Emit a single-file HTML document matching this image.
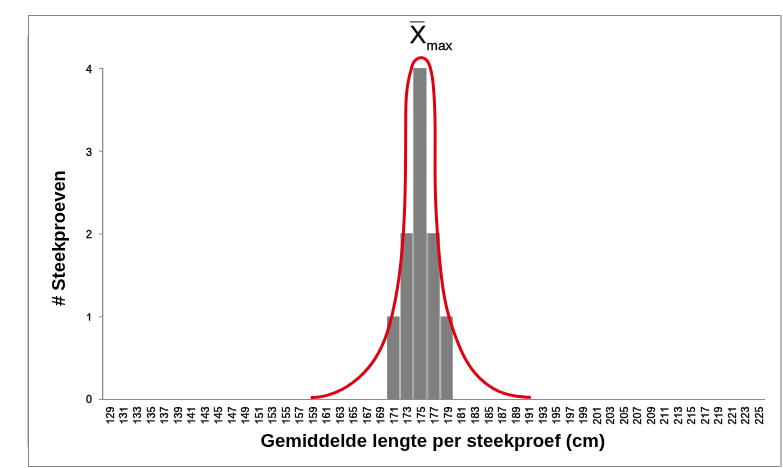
<!DOCTYPE html>
<html><head><meta charset="utf-8"><title>Chart</title>
<style>
html,body{margin:0;padding:0;background:#fff;}
body{width:783px;height:468px;overflow:hidden;position:relative;font-family:"Liberation Sans",sans-serif;}
svg{position:absolute;left:0;top:0;will-change:transform;}
svg text{font-family:"Liberation Sans",sans-serif;}
</style></head><body>
<svg width="783" height="468" viewBox="0 0 783 468">
<defs><path id="one" d="M0.3726 0.0000L0.2847 0.0000L0.2847 -0.5361Q0.2529 -0.5071 0.2014 -0.4781Q0.1499 -0.4492 0.1089 -0.4347L0.1089 -0.5160Q0.1826 -0.5492 0.2378 -0.5964Q0.2930 -0.6436 0.3159 -0.6880L0.3726 -0.6880Z"/></defs>
<rect x="0" y="0" width="783" height="468" fill="#fff"/>
<rect x="28" y="15" width="754" height="1" fill="#858585"/>
<rect x="28" y="466" width="754" height="1" fill="#858585"/>
<rect x="28" y="15" width="1" height="452" fill="#858585"/>
<rect x="27" y="35" width="1" height="412" fill="#cfcfcf"/>
<rect x="780" y="15" width="2" height="452" fill="#b6b6b6"/>
<rect x="387.1" y="316.4" width="12.00" height="82.60" fill="#7f7f7f"/>
<rect x="400.5" y="233.2" width="11.55" height="165.80" fill="#7f7f7f"/>
<rect x="413.3" y="68.1" width="13.20" height="330.90" fill="#7f7f7f"/>
<rect x="428.1" y="233.2" width="11.64" height="165.80" fill="#7f7f7f"/>
<rect x="441.03" y="316.4" width="11.72" height="82.60" fill="#7f7f7f"/>
<rect x="398.95" y="316.4" width="1.65" height="82.60" fill="#b6b6b6"/>
<rect x="412.05" y="233.2" width="2.05" height="165.80" fill="#a6a6a6"/>
<rect x="425.9" y="233.2" width="2.20" height="165.80" fill="#a4a4a4"/>
<rect x="439.6" y="316.4" width="1.55" height="82.60" fill="#b8b8b8"/>
<rect x="102" y="68" width="1.3" height="332" fill="#8c8c8c"/>
<rect x="99" y="399" width="666" height="1" fill="#8c8c8c"/>
<rect x="99" y="316.25" width="3" height="1" fill="#8c8c8c"/>
<rect x="99" y="233.50" width="3" height="1" fill="#8c8c8c"/>
<rect x="99" y="150.75" width="3" height="1" fill="#8c8c8c"/>
<rect x="99" y="68.00" width="3" height="1" fill="#8c8c8c"/>
<path d="M310.82 397.53 L312.40 397.50 L313.97 397.42 L315.53 397.31 L317.09 397.16 L318.64 396.97 L320.18 396.75 L321.72 396.49 L323.25 396.19 L324.76 395.86 L326.27 395.49 L327.77 395.09 L329.26 394.65 L330.74 394.18 L332.21 393.68 L333.67 393.15 L335.11 392.58 L336.55 391.99 L337.97 391.36 L339.38 390.71 L340.78 390.02 L342.16 389.31 L343.54 388.57 L344.89 387.80 L346.24 387.00 L347.57 386.18 L348.88 385.33 L350.18 384.45 L351.47 383.55 L352.74 382.63 L353.99 381.68 L355.22 380.71 L356.44 379.72 L357.64 378.70 L358.83 377.67 L359.99 376.61 L361.14 375.53 L362.27 374.43 L363.38 373.32 L364.47 372.18 L365.54 371.03 L366.60 369.85 L367.63 368.66 L368.64 367.46 L369.62 366.24 L370.59 365.00 L371.54 363.75 L372.46 362.48 L373.36 361.20 L374.24 359.91 L375.09 358.60 L375.93 357.28 L376.73 355.95 L377.52 354.61 L378.28 353.26 L379.02 351.90 L379.74 350.52 L380.44 349.14 L381.12 347.75 L381.78 346.35 L382.42 344.93 L383.04 343.51 L383.64 342.08 L384.23 340.65 L384.80 339.20 L385.35 337.75 L385.88 336.29 L386.40 334.83 L386.91 333.35 L387.40 331.87 L387.88 330.39 L388.34 328.90 L388.79 327.41 L389.23 325.91 L389.66 324.40 L390.07 322.89 L390.48 321.38 L390.87 319.87 L391.25 318.35 L391.63 316.83 L391.99 315.30 L392.35 313.78 L392.70 312.25 L393.05 310.72 L393.38 309.19 L393.71 307.66 L394.04 306.12 L394.35 304.59 L394.67 303.06 L394.97 301.52 L395.27 299.98 L395.56 298.45 L395.85 296.91 L396.13 295.37 L396.40 293.83 L396.67 292.29 L396.94 290.75 L397.19 289.20 L397.45 287.66 L397.69 286.11 L397.93 284.57 L398.17 283.02 L398.40 281.48 L398.63 279.93 L398.85 278.38 L399.06 276.83 L399.27 275.28 L399.48 273.74 L399.68 272.18 L399.87 270.63 L400.07 269.08 L400.25 267.53 L400.43 265.98 L400.61 264.43 L400.79 262.87 L400.95 261.32 L401.12 259.77 L401.28 258.21 L401.44 256.66 L401.59 255.10 L401.74 253.55 L401.88 251.99 L402.02 250.44 L402.16 248.88 L402.30 247.33 L402.43 245.77 L402.55 244.22 L402.68 242.66 L402.80 241.10 L402.91 239.55 L403.03 237.99 L403.14 236.43 L403.24 234.88 L403.35 233.32 L403.45 231.76 L403.54 230.20 L403.64 228.65 L403.73 227.09 L403.82 225.53 L403.90 223.97 L403.99 222.42 L404.07 220.86 L404.14 219.30 L404.22 217.74 L404.29 216.18 L404.36 214.62 L404.43 213.06 L404.49 211.50 L404.55 209.94 L404.61 208.38 L404.67 206.82 L404.72 205.26 L404.78 203.70 L404.83 202.14 L404.88 200.58 L404.92 199.02 L404.97 197.46 L405.01 195.90 L405.05 194.34 L405.09 192.78 L405.13 191.22 L405.16 189.66 L405.19 188.10 L405.23 186.54 L405.26 184.97 L405.28 183.41 L405.31 181.85 L405.34 180.29 L405.36 178.73 L405.38 177.16 L405.40 175.60 L405.42 174.04 L405.44 172.48 L405.46 170.91 L405.48 169.35 L405.49 167.79 L405.51 166.23 L405.52 164.66 L405.53 163.10 L405.55 161.54 L405.56 159.97 L405.57 158.41 L405.58 156.85 L405.59 155.28 L405.60 153.72 L405.60 152.16 L405.61 150.59 L405.62 149.03 L405.62 147.46 L405.63 145.90 L405.64 144.34 L405.64 142.77 L405.65 141.21 L405.65 139.64 L405.66 138.08 L405.66 136.51 L405.67 134.95 L405.67 133.38 L405.68 131.82 L405.68 130.25 L405.69 128.69 L405.69 127.12 L405.70 125.56 L405.71 123.99 L405.71 122.43 L405.72 120.86 L405.73 119.30 L405.74 117.73 L405.75 116.17 L405.76 114.60 L405.77 113.04 L405.79 111.47 L405.82 109.91 L405.85 108.35 L405.88 106.78 L405.93 105.22 L405.98 103.66 L406.04 102.10 L406.11 100.55 L406.20 98.99 L406.29 97.43 L406.40 95.88 L406.53 94.33 L406.67 92.78 L406.83 91.24 L407.00 89.69 L407.19 88.15 L407.40 86.61 L407.63 85.08 L407.88 83.54 L408.16 82.01 L408.45 80.49 L408.77 78.96 L409.11 77.44 L409.48 75.92 L409.85 74.40 L410.24 72.87 L410.64 71.34 L411.04 69.81 L411.44 68.26 L411.86 66.72 L412.34 65.20 L412.93 63.74 L413.67 62.36 L414.60 61.08 L415.70 59.95 L416.94 59.01 L418.29 58.28 L419.72 57.83 L421.19 57.68 L422.67 57.86 L424.10 58.34 L425.42 59.09 L426.58 60.08 L427.54 61.26 L428.32 62.59 L428.97 64.03 L429.52 65.52 L430.02 67.03 L430.47 68.55 L430.87 70.07 L431.24 71.60 L431.57 73.13 L431.87 74.67 L432.14 76.21 L432.38 77.76 L432.59 79.30 L432.79 80.85 L432.96 82.41 L433.12 83.96 L433.27 85.51 L433.41 87.07 L433.54 88.63 L433.67 90.18 L433.79 91.74 L433.90 93.30 L434.01 94.85 L434.11 96.41 L434.20 97.97 L434.29 99.53 L434.37 101.09 L434.45 102.65 L434.53 104.21 L434.59 105.77 L434.66 107.33 L434.71 108.89 L434.77 110.45 L434.82 112.01 L434.86 113.57 L434.90 115.13 L434.94 116.69 L434.97 118.25 L435.00 119.81 L435.03 121.38 L435.05 122.94 L435.07 124.50 L435.09 126.06 L435.11 127.62 L435.12 129.19 L435.13 130.75 L435.14 132.31 L435.14 133.88 L435.14 135.44 L435.15 137.00 L435.15 138.57 L435.14 140.13 L435.14 141.69 L435.14 143.26 L435.13 144.82 L435.13 146.38 L435.12 147.95 L435.12 149.51 L435.11 151.07 L435.10 152.64 L435.10 154.20 L435.09 155.76 L435.08 157.33 L435.08 158.89 L435.07 160.45 L435.07 162.02 L435.07 163.58 L435.07 165.14 L435.07 166.71 L435.07 168.27 L435.07 169.83 L435.07 171.40 L435.08 172.96 L435.09 174.52 L435.10 176.08 L435.12 177.65 L435.13 179.21 L435.15 180.77 L435.18 182.33 L435.20 183.89 L435.23 185.45 L435.26 187.02 L435.29 188.58 L435.33 190.14 L435.37 191.70 L435.41 193.26 L435.46 194.82 L435.51 196.38 L435.56 197.94 L435.61 199.50 L435.67 201.06 L435.73 202.62 L435.79 204.18 L435.86 205.74 L435.92 207.30 L435.99 208.86 L436.07 210.41 L436.14 211.97 L436.22 213.53 L436.30 215.09 L436.38 216.65 L436.47 218.21 L436.56 219.77 L436.65 221.33 L436.74 222.88 L436.84 224.44 L436.94 226.00 L437.04 227.56 L437.14 229.12 L437.25 230.67 L437.35 232.23 L437.46 233.79 L437.58 235.35 L437.69 236.90 L437.81 238.46 L437.93 240.02 L438.05 241.58 L438.18 243.13 L438.30 244.69 L438.43 246.25 L438.57 247.81 L438.70 249.36 L438.84 250.92 L438.97 252.48 L439.11 254.04 L439.26 255.59 L439.40 257.15 L439.55 258.71 L439.70 260.27 L439.85 261.82 L440.00 263.38 L440.16 264.94 L440.32 266.50 L440.48 268.05 L440.64 269.61 L440.81 271.17 L440.98 272.72 L441.15 274.28 L441.33 275.83 L441.51 277.39 L441.70 278.94 L441.90 280.49 L442.10 282.04 L442.30 283.59 L442.52 285.14 L442.73 286.69 L442.96 288.24 L443.20 289.78 L443.44 291.32 L443.69 292.86 L443.95 294.40 L444.21 295.94 L444.49 297.48 L444.78 299.01 L445.08 300.54 L445.38 302.07 L445.70 303.59 L446.03 305.11 L446.37 306.63 L446.73 308.15 L447.09 309.67 L447.47 311.18 L447.86 312.69 L448.26 314.19 L448.68 315.69 L449.10 317.19 L449.54 318.69 L449.99 320.18 L450.44 321.67 L450.91 323.16 L451.39 324.65 L451.88 326.13 L452.37 327.61 L452.88 329.09 L453.39 330.57 L453.91 332.05 L454.43 333.52 L454.97 334.99 L455.51 336.46 L456.06 337.93 L456.61 339.40 L457.17 340.86 L457.74 342.32 L458.32 343.77 L458.92 345.22 L459.52 346.67 L460.14 348.10 L460.76 349.53 L461.41 350.96 L462.07 352.37 L462.74 353.78 L463.44 355.18 L464.15 356.57 L464.88 357.95 L465.62 359.31 L466.39 360.67 L467.19 362.01 L468.00 363.34 L468.84 364.66 L469.70 365.96 L470.59 367.25 L471.50 368.52 L472.44 369.78 L473.40 371.01 L474.38 372.23 L475.39 373.43 L476.43 374.61 L477.49 375.77 L478.57 376.91 L479.67 378.02 L480.80 379.11 L481.95 380.17 L483.12 381.21 L484.31 382.22 L485.52 383.20 L486.76 384.15 L488.02 385.07 L489.29 385.97 L490.59 386.82 L491.91 387.65 L493.25 388.44 L494.60 389.20 L495.98 389.92 L497.38 390.61 L498.79 391.26 L500.22 391.87 L501.67 392.44 L503.14 392.97 L504.63 393.46 L506.12 393.91 L507.64 394.33 L509.16 394.72 L510.69 395.07 L512.23 395.39 L513.78 395.68 L515.34 395.95 L516.90 396.19 L518.46 396.40 L520.02 396.59 L521.58 396.76 L523.14 396.91 L524.69 397.04 L526.24 397.15 L527.79 397.25 L529.32 397.33 L530.85 397.40" fill="none" stroke="#e10012" stroke-width="3" stroke-linecap="butt" stroke-linejoin="round"/>
<g transform="translate(86.07 402.95)" font-size="10.67" fill="#000" stroke="#000" stroke-width="0.35"><text x="0.00" y="0">0</text></g>
<g transform="translate(86.07 320.50)" font-size="10.67" fill="#000" stroke="#000" stroke-width="0.35"><use href="#one" transform="translate(0.00 0) scale(10.67)" stroke-width="0.0328"/></g>
<g transform="translate(86.07 237.90)" font-size="10.67" fill="#000" stroke="#000" stroke-width="0.35"><text x="0.00" y="0">2</text></g>
<g transform="translate(86.07 156.30)" font-size="10.67" fill="#000" stroke="#000" stroke-width="0.35"><text x="0.00" y="0">3</text></g>
<g transform="translate(86.07 72.85)" font-size="10.67" fill="#000" stroke="#000" stroke-width="0.35"><text x="0.00" y="0">4</text></g>
<g transform="translate(113.96 424.4) rotate(-90) scale(0.945 1)" font-size="11.3" fill="#000" stroke="#000" stroke-width="0.35"><use href="#one" transform="translate(0.00 0) scale(11.3)" stroke-width="0.0310"/><text x="6.28" y="0">29</text></g>
<g transform="translate(127.48 424.4) rotate(-90) scale(0.945 1)" font-size="11.3" fill="#000" stroke="#000" stroke-width="0.35"><use href="#one" transform="translate(0.00 0) scale(11.3)" stroke-width="0.0310"/><text x="6.28" y="0">3</text><use href="#one" transform="translate(12.57 0) scale(11.3)" stroke-width="0.0310"/></g>
<g transform="translate(141.00 424.4) rotate(-90) scale(0.945 1)" font-size="11.3" fill="#000" stroke="#000" stroke-width="0.35"><use href="#one" transform="translate(0.00 0) scale(11.3)" stroke-width="0.0310"/><text x="6.28" y="0">33</text></g>
<g transform="translate(154.52 424.4) rotate(-90) scale(0.945 1)" font-size="11.3" fill="#000" stroke="#000" stroke-width="0.35"><use href="#one" transform="translate(0.00 0) scale(11.3)" stroke-width="0.0310"/><text x="6.28" y="0">35</text></g>
<g transform="translate(168.04 424.4) rotate(-90) scale(0.945 1)" font-size="11.3" fill="#000" stroke="#000" stroke-width="0.35"><use href="#one" transform="translate(0.00 0) scale(11.3)" stroke-width="0.0310"/><text x="6.28" y="0">37</text></g>
<g transform="translate(181.56 424.4) rotate(-90) scale(0.945 1)" font-size="11.3" fill="#000" stroke="#000" stroke-width="0.35"><use href="#one" transform="translate(0.00 0) scale(11.3)" stroke-width="0.0310"/><text x="6.28" y="0">39</text></g>
<g transform="translate(195.08 424.4) rotate(-90) scale(0.945 1)" font-size="11.3" fill="#000" stroke="#000" stroke-width="0.35"><use href="#one" transform="translate(0.00 0) scale(11.3)" stroke-width="0.0310"/><text x="6.28" y="0">4</text><use href="#one" transform="translate(12.57 0) scale(11.3)" stroke-width="0.0310"/></g>
<g transform="translate(208.60 424.4) rotate(-90) scale(0.945 1)" font-size="11.3" fill="#000" stroke="#000" stroke-width="0.35"><use href="#one" transform="translate(0.00 0) scale(11.3)" stroke-width="0.0310"/><text x="6.28" y="0">43</text></g>
<g transform="translate(222.12 424.4) rotate(-90) scale(0.945 1)" font-size="11.3" fill="#000" stroke="#000" stroke-width="0.35"><use href="#one" transform="translate(0.00 0) scale(11.3)" stroke-width="0.0310"/><text x="6.28" y="0">45</text></g>
<g transform="translate(235.64 424.4) rotate(-90) scale(0.945 1)" font-size="11.3" fill="#000" stroke="#000" stroke-width="0.35"><use href="#one" transform="translate(0.00 0) scale(11.3)" stroke-width="0.0310"/><text x="6.28" y="0">47</text></g>
<g transform="translate(249.16 424.4) rotate(-90) scale(0.945 1)" font-size="11.3" fill="#000" stroke="#000" stroke-width="0.35"><use href="#one" transform="translate(0.00 0) scale(11.3)" stroke-width="0.0310"/><text x="6.28" y="0">49</text></g>
<g transform="translate(262.68 424.4) rotate(-90) scale(0.945 1)" font-size="11.3" fill="#000" stroke="#000" stroke-width="0.35"><use href="#one" transform="translate(0.00 0) scale(11.3)" stroke-width="0.0310"/><text x="6.28" y="0">5</text><use href="#one" transform="translate(12.57 0) scale(11.3)" stroke-width="0.0310"/></g>
<g transform="translate(276.20 424.4) rotate(-90) scale(0.945 1)" font-size="11.3" fill="#000" stroke="#000" stroke-width="0.35"><use href="#one" transform="translate(0.00 0) scale(11.3)" stroke-width="0.0310"/><text x="6.28" y="0">53</text></g>
<g transform="translate(289.72 424.4) rotate(-90) scale(0.945 1)" font-size="11.3" fill="#000" stroke="#000" stroke-width="0.35"><use href="#one" transform="translate(0.00 0) scale(11.3)" stroke-width="0.0310"/><text x="6.28" y="0">55</text></g>
<g transform="translate(303.24 424.4) rotate(-90) scale(0.945 1)" font-size="11.3" fill="#000" stroke="#000" stroke-width="0.35"><use href="#one" transform="translate(0.00 0) scale(11.3)" stroke-width="0.0310"/><text x="6.28" y="0">57</text></g>
<g transform="translate(316.76 424.4) rotate(-90) scale(0.945 1)" font-size="11.3" fill="#000" stroke="#000" stroke-width="0.35"><use href="#one" transform="translate(0.00 0) scale(11.3)" stroke-width="0.0310"/><text x="6.28" y="0">59</text></g>
<g transform="translate(330.28 424.4) rotate(-90) scale(0.945 1)" font-size="11.3" fill="#000" stroke="#000" stroke-width="0.35"><use href="#one" transform="translate(0.00 0) scale(11.3)" stroke-width="0.0310"/><text x="6.28" y="0">6</text><use href="#one" transform="translate(12.57 0) scale(11.3)" stroke-width="0.0310"/></g>
<g transform="translate(343.80 424.4) rotate(-90) scale(0.945 1)" font-size="11.3" fill="#000" stroke="#000" stroke-width="0.35"><use href="#one" transform="translate(0.00 0) scale(11.3)" stroke-width="0.0310"/><text x="6.28" y="0">63</text></g>
<g transform="translate(357.32 424.4) rotate(-90) scale(0.945 1)" font-size="11.3" fill="#000" stroke="#000" stroke-width="0.35"><use href="#one" transform="translate(0.00 0) scale(11.3)" stroke-width="0.0310"/><text x="6.28" y="0">65</text></g>
<g transform="translate(370.84 424.4) rotate(-90) scale(0.945 1)" font-size="11.3" fill="#000" stroke="#000" stroke-width="0.35"><use href="#one" transform="translate(0.00 0) scale(11.3)" stroke-width="0.0310"/><text x="6.28" y="0">67</text></g>
<g transform="translate(384.36 424.4) rotate(-90) scale(0.945 1)" font-size="11.3" fill="#000" stroke="#000" stroke-width="0.35"><use href="#one" transform="translate(0.00 0) scale(11.3)" stroke-width="0.0310"/><text x="6.28" y="0">69</text></g>
<g transform="translate(397.88 424.4) rotate(-90) scale(0.945 1)" font-size="11.3" fill="#000" stroke="#000" stroke-width="0.35"><use href="#one" transform="translate(0.00 0) scale(11.3)" stroke-width="0.0310"/><text x="6.28" y="0">7</text><use href="#one" transform="translate(12.57 0) scale(11.3)" stroke-width="0.0310"/></g>
<g transform="translate(411.40 424.4) rotate(-90) scale(0.945 1)" font-size="11.3" fill="#000" stroke="#000" stroke-width="0.35"><use href="#one" transform="translate(0.00 0) scale(11.3)" stroke-width="0.0310"/><text x="6.28" y="0">73</text></g>
<g transform="translate(424.92 424.4) rotate(-90) scale(0.945 1)" font-size="11.3" fill="#000" stroke="#000" stroke-width="0.35"><use href="#one" transform="translate(0.00 0) scale(11.3)" stroke-width="0.0310"/><text x="6.28" y="0">75</text></g>
<g transform="translate(438.44 424.4) rotate(-90) scale(0.945 1)" font-size="11.3" fill="#000" stroke="#000" stroke-width="0.35"><use href="#one" transform="translate(0.00 0) scale(11.3)" stroke-width="0.0310"/><text x="6.28" y="0">77</text></g>
<g transform="translate(451.96 424.4) rotate(-90) scale(0.945 1)" font-size="11.3" fill="#000" stroke="#000" stroke-width="0.35"><use href="#one" transform="translate(0.00 0) scale(11.3)" stroke-width="0.0310"/><text x="6.28" y="0">79</text></g>
<g transform="translate(465.48 424.4) rotate(-90) scale(0.945 1)" font-size="11.3" fill="#000" stroke="#000" stroke-width="0.35"><use href="#one" transform="translate(0.00 0) scale(11.3)" stroke-width="0.0310"/><text x="6.28" y="0">8</text><use href="#one" transform="translate(12.57 0) scale(11.3)" stroke-width="0.0310"/></g>
<g transform="translate(479.00 424.4) rotate(-90) scale(0.945 1)" font-size="11.3" fill="#000" stroke="#000" stroke-width="0.35"><use href="#one" transform="translate(0.00 0) scale(11.3)" stroke-width="0.0310"/><text x="6.28" y="0">83</text></g>
<g transform="translate(492.52 424.4) rotate(-90) scale(0.945 1)" font-size="11.3" fill="#000" stroke="#000" stroke-width="0.35"><use href="#one" transform="translate(0.00 0) scale(11.3)" stroke-width="0.0310"/><text x="6.28" y="0">85</text></g>
<g transform="translate(506.04 424.4) rotate(-90) scale(0.945 1)" font-size="11.3" fill="#000" stroke="#000" stroke-width="0.35"><use href="#one" transform="translate(0.00 0) scale(11.3)" stroke-width="0.0310"/><text x="6.28" y="0">87</text></g>
<g transform="translate(519.56 424.4) rotate(-90) scale(0.945 1)" font-size="11.3" fill="#000" stroke="#000" stroke-width="0.35"><use href="#one" transform="translate(0.00 0) scale(11.3)" stroke-width="0.0310"/><text x="6.28" y="0">89</text></g>
<g transform="translate(533.08 424.4) rotate(-90) scale(0.945 1)" font-size="11.3" fill="#000" stroke="#000" stroke-width="0.35"><use href="#one" transform="translate(0.00 0) scale(11.3)" stroke-width="0.0310"/><text x="6.28" y="0">9</text><use href="#one" transform="translate(12.57 0) scale(11.3)" stroke-width="0.0310"/></g>
<g transform="translate(546.60 424.4) rotate(-90) scale(0.945 1)" font-size="11.3" fill="#000" stroke="#000" stroke-width="0.35"><use href="#one" transform="translate(0.00 0) scale(11.3)" stroke-width="0.0310"/><text x="6.28" y="0">93</text></g>
<g transform="translate(560.12 424.4) rotate(-90) scale(0.945 1)" font-size="11.3" fill="#000" stroke="#000" stroke-width="0.35"><use href="#one" transform="translate(0.00 0) scale(11.3)" stroke-width="0.0310"/><text x="6.28" y="0">95</text></g>
<g transform="translate(573.64 424.4) rotate(-90) scale(0.945 1)" font-size="11.3" fill="#000" stroke="#000" stroke-width="0.35"><use href="#one" transform="translate(0.00 0) scale(11.3)" stroke-width="0.0310"/><text x="6.28" y="0">97</text></g>
<g transform="translate(587.16 424.4) rotate(-90) scale(0.945 1)" font-size="11.3" fill="#000" stroke="#000" stroke-width="0.35"><use href="#one" transform="translate(0.00 0) scale(11.3)" stroke-width="0.0310"/><text x="6.28" y="0">99</text></g>
<g transform="translate(600.68 424.4) rotate(-90) scale(0.945 1)" font-size="11.3" fill="#000" stroke="#000" stroke-width="0.35"><text x="0.00" y="0">20</text><use href="#one" transform="translate(12.57 0) scale(11.3)" stroke-width="0.0310"/></g>
<g transform="translate(614.20 424.4) rotate(-90) scale(0.945 1)" font-size="11.3" fill="#000" stroke="#000" stroke-width="0.35"><text x="0.00" y="0">203</text></g>
<g transform="translate(627.72 424.4) rotate(-90) scale(0.945 1)" font-size="11.3" fill="#000" stroke="#000" stroke-width="0.35"><text x="0.00" y="0">205</text></g>
<g transform="translate(641.24 424.4) rotate(-90) scale(0.945 1)" font-size="11.3" fill="#000" stroke="#000" stroke-width="0.35"><text x="0.00" y="0">207</text></g>
<g transform="translate(654.76 424.4) rotate(-90) scale(0.945 1)" font-size="11.3" fill="#000" stroke="#000" stroke-width="0.35"><text x="0.00" y="0">209</text></g>
<g transform="translate(668.28 424.4) rotate(-90) scale(0.945 1)" font-size="11.3" fill="#000" stroke="#000" stroke-width="0.35"><text x="0.00" y="0">2</text><use href="#one" transform="translate(6.28 0) scale(11.3)" stroke-width="0.0310"/><use href="#one" transform="translate(12.57 0) scale(11.3)" stroke-width="0.0310"/></g>
<g transform="translate(681.80 424.4) rotate(-90) scale(0.945 1)" font-size="11.3" fill="#000" stroke="#000" stroke-width="0.35"><text x="0.00" y="0">2</text><use href="#one" transform="translate(6.28 0) scale(11.3)" stroke-width="0.0310"/><text x="12.57" y="0">3</text></g>
<g transform="translate(695.32 424.4) rotate(-90) scale(0.945 1)" font-size="11.3" fill="#000" stroke="#000" stroke-width="0.35"><text x="0.00" y="0">2</text><use href="#one" transform="translate(6.28 0) scale(11.3)" stroke-width="0.0310"/><text x="12.57" y="0">5</text></g>
<g transform="translate(708.84 424.4) rotate(-90) scale(0.945 1)" font-size="11.3" fill="#000" stroke="#000" stroke-width="0.35"><text x="0.00" y="0">2</text><use href="#one" transform="translate(6.28 0) scale(11.3)" stroke-width="0.0310"/><text x="12.57" y="0">7</text></g>
<g transform="translate(722.36 424.4) rotate(-90) scale(0.945 1)" font-size="11.3" fill="#000" stroke="#000" stroke-width="0.35"><text x="0.00" y="0">2</text><use href="#one" transform="translate(6.28 0) scale(11.3)" stroke-width="0.0310"/><text x="12.57" y="0">9</text></g>
<g transform="translate(735.88 424.4) rotate(-90) scale(0.945 1)" font-size="11.3" fill="#000" stroke="#000" stroke-width="0.35"><text x="0.00" y="0">22</text><use href="#one" transform="translate(12.57 0) scale(11.3)" stroke-width="0.0310"/></g>
<g transform="translate(749.40 424.4) rotate(-90) scale(0.945 1)" font-size="11.3" fill="#000" stroke="#000" stroke-width="0.35"><text x="0.00" y="0">223</text></g>
<g transform="translate(762.92 424.4) rotate(-90) scale(0.945 1)" font-size="11.3" fill="#000" stroke="#000" stroke-width="0.35"><text x="0.00" y="0">225</text></g>
<text transform="translate(432.8 447.0) scale(0.998 1)" text-anchor="middle" font-size="18.67" font-weight="bold" fill="#000">Gemiddelde lengte per steekproef (cm)</text>
<text transform="translate(65.4 238.1) rotate(-90) scale(0.985 1.02)" text-anchor="middle" font-size="18.67" font-weight="bold" fill="#000"># Steekproeven</text>
<text transform="translate(409.75 42.75) scale(1.03 1)" font-size="24" fill="#000" stroke="#000" stroke-width="0.35">X</text>
<rect x="409.9" y="21.1" width="14.7" height="1.5" fill="#666"/>
<text x="426.6" y="50.4" font-size="13.6" fill="#000" stroke="#000" stroke-width="0.3">max</text>
</svg>
</body></html>
